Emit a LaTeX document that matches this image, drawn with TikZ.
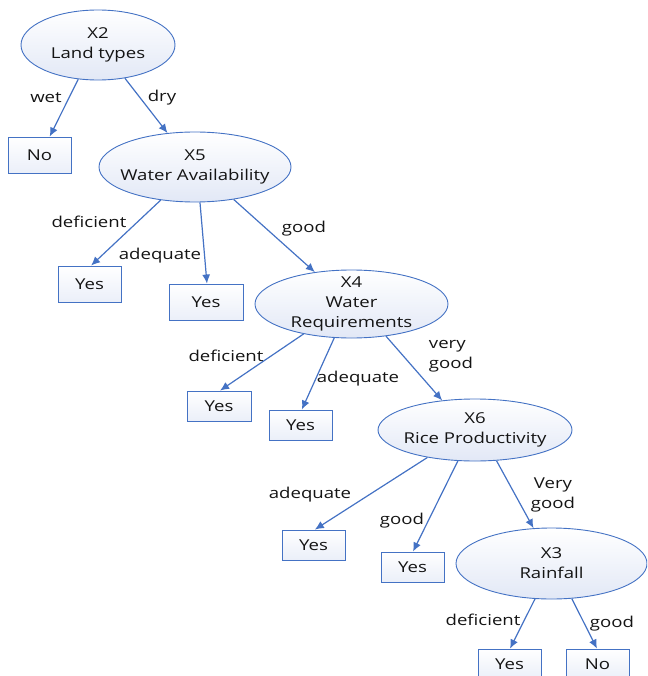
\documentclass[tikz,border=0pt]{standalone}
\usepackage{fontspec}
\setmainfont{Open Sans}[FakeStretch=1.24]
\usetikzlibrary{shapes.geometric,arrows.meta}
\definecolor{edgeblue}{RGB}{68,114,196}
\definecolor{fillblue}{RGB}{226,232,246}
\definecolor{txt}{RGB}{20,20,20}
\tikzset{
  dnode/.style={ellipse,draw=edgeblue,line width=0.9pt,top color=white,bottom color=fillblue,
    inner sep=-22pt,align=center,text=txt,font=\fontsize{15}{20}\selectfont},
  leaf/.style={rectangle,draw=edgeblue,line width=0.9pt,top color=white,bottom color=fillblue!70!white,
    inner sep=0pt,text=txt,font=\fontsize{15}{20}\selectfont},
  conn/.style={draw=edgeblue,line width=1.2pt,-{Latex[length=9pt,width=8pt]}},
  lbl/.style={text=txt,inner sep=0pt,font=\fontsize{15}{20}\selectfont,align=center}
}
\begin{document}
\begin{tikzpicture}[x=1pt,y=-1pt]
\useasboundingbox (0,0) rectangle (647,676);
\clip (0,0) rectangle (647,676);
% decision nodes
\node[dnode,minimum width=154pt,minimum height=70pt] (x2) at (98,45) {X2\\Land types};
\node[dnode,minimum width=192pt,minimum height=70pt] (x5) at (195,167) {X5\\Water Availability};
\node[dnode,minimum width=193pt,minimum height=68pt] (x4) at (351.5,304) {X4\\Water\\Requirements};
\node[dnode,minimum width=194pt,minimum height=62pt] (x6) at (475,430) {X6\\Rice Productivity};
\node[dnode,minimum width=191pt,minimum height=71pt] (x3) at (551.5,563.5) {X3\\Rainfall};
% leaves
\node[leaf,minimum width=63pt,minimum height=36pt] (no1) at (39.5,155) {No};
\node[leaf,minimum width=63pt,minimum height=36pt] (yes1) at (89.5,284) {Yes};
\node[leaf,minimum width=74pt,minimum height=36pt] (yes2) at (206,302) {Yes};
\node[leaf,minimum width=64pt,minimum height=30pt] (yes3) at (219,406) {Yes};
\node[leaf,minimum width=63pt,minimum height=30pt] (yes4) at (300.5,425) {Yes};
\node[leaf,minimum width=63pt,minimum height=30pt] (yes5) at (313.5,545) {Yes};
\node[leaf,minimum width=63pt,minimum height=30pt] (yes6) at (412.5,567) {Yes};
\node[leaf,minimum width=63pt,minimum height=30pt] (yes7) at (509.5,664) {Yes};
\node[leaf,minimum width=63pt,minimum height=30pt] (no2) at (597.5,664) {No};
% connectors
\draw[conn] (x2.240) -- (no1.61);
\draw[conn] (x2.-51) -- (x5.129);
\draw[conn] (x5.224) -- (yes1.85);
\draw[conn] (x5.-82) -- (yes2.87);
\draw[conn] (x5.-40) -- (x4.139);
\draw[conn] (x4.212.6) -- (yes3.86);
\draw[conn] (x4.243.4) -- (yes4.85);
\draw[conn] (x4.-43) -- (x6.138.5);
\draw[conn] (x6.210) -- (yes5.85);
\draw[conn] (x6.241.3) -- (yes6.88);
\draw[conn] (x6.-55) -- (x3.117.5);
\draw[conn] (x3.245) -- (yes7.88);
\draw[conn] (x3.-60) -- (no2.92);
% labels
\node[lbl] (lwet) at (46,98) {wet};
\node[lbl] (ldry) at (162,98) {dry};
\node[lbl] (l51) at (89,222) {deficient};
\node[lbl] (l52) at (160,256) {adequate};
\node[lbl] (l53) at (304,229) {good};
\node[lbl] (l41) at (226,356) {deficient};
\node[lbl] (l42) at (358,379) {adequate};
\node[lbl,align=left] (l43) at (451,356) {very\\good};
\node[lbl] (l61) at (310,495) {adequate};
\node[lbl] (l62) at (402,521) {good};
\node[lbl] (l63) at (553,495) {Very\\good};
\node[lbl] (l31) at (483,620) {deficient};
\node[lbl] (l32) at (612,624) {good};
\end{tikzpicture}
\end{document}
